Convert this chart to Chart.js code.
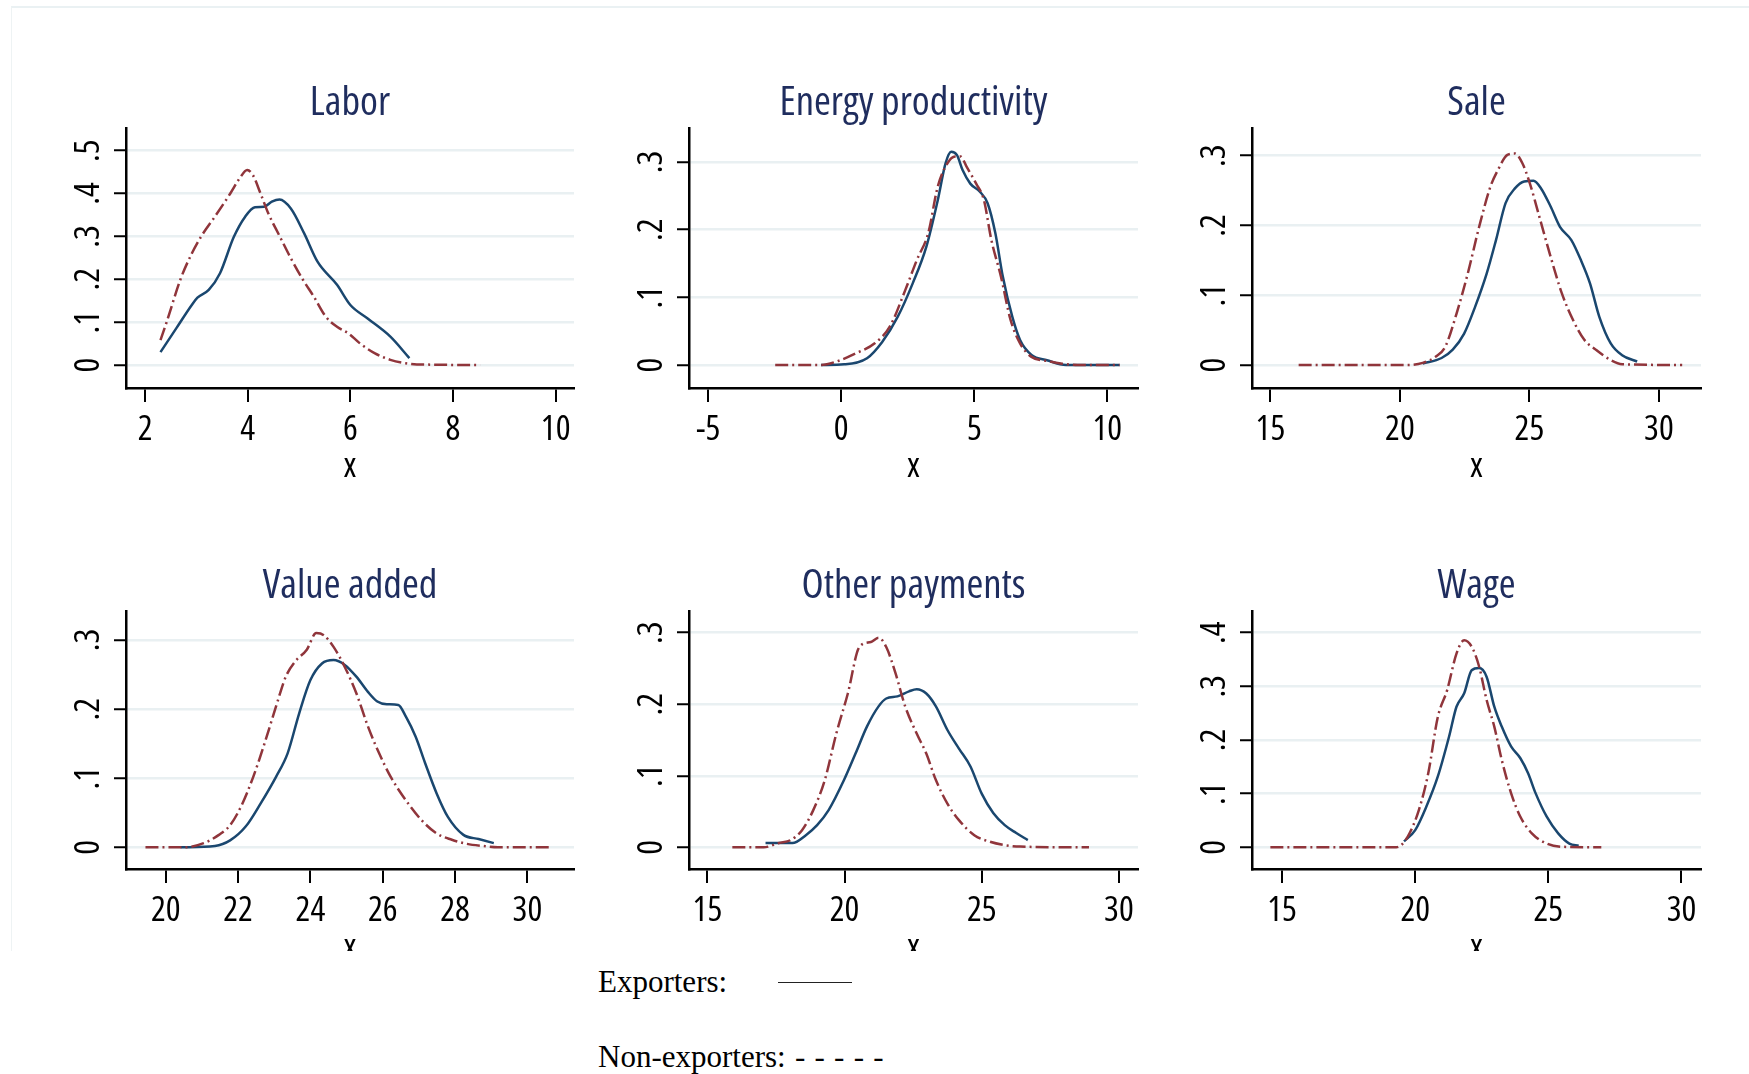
<!DOCTYPE html>
<html><head><meta charset="utf-8">
<script src="https://cdn.jsdelivr.net/npm/chart.js@4.4.1/dist/chart.umd.min.js"></script>
<style>
html,body{margin:0;padding:0;background:#fff;width:1749px;height:1074px;overflow:hidden;}
#graph{position:absolute;left:0;top:0;width:1749px;height:951px;overflow:hidden;}
#frame{position:absolute;left:11px;top:6px;width:1800px;height:1000px;border-top:2px solid #eaf1f3;border-left:1px solid #eef3f4;}
canvas{position:absolute;}
.leg{position:absolute;left:598px;font-family:'Liberation Serif','Times New Roman',serif;font-size:31px;line-height:31px;color:#000;white-space:pre;}
</style></head><body>
<div id="graph"><div id="frame"></div></div>
<div class="leg" style="top:966px">Exporters:</div>
<div style="position:absolute;left:778px;top:982px;width:74px;height:0;border-top:1.5px solid #222"></div>
<div class="leg" style="top:1041px">Non-exporters:<span style="word-spacing:1.5px"> - - - - -</span></div>
<script>
// ---- data ----
const panelTitles = ['Labor','Energy productivity','Sale','Value added','Other payments','Wage'];

const laborExpX = [2.30,2.61,2.91,3.02,3.24,3.46,3.73,3.95,4.14,4.32,4.47,4.62,4.84,5.10,5.36,5.74,6.00,6.33,6.78,7.15];
const laborExpY = [.030,.086,.140,.157,.175,.214,.299,.346,.368,.369,.381,.386,.365,.307,.241,.187,.140,.109,.066,.016];
const laborNonX = [2.30,2.42,2.69,2.91,3.10,3.36,3.66,3.84,3.99,4.10,4.25,4.40,4.62,4.84,5.07,5.29,5.52,5.74,5.96,6.18,6.48,6.78,7.08,7.45,8.53];
const laborNonY = [.058,.100,.200,.260,.301,.346,.400,.435,.455,.443,.400,.354,.301,.249,.200,.159,.113,.089,.074,.051,.027,.012,.004,.001,0];

const energyExpX = [-0.76,0.11,0.97,1.54,2.12,2.69,3.20,3.63,3.92,4.13,4.35,4.56,4.85,5.21,5.50,5.79,6.07,6.43,6.72,7.15,7.73,8.45,10.46];
const energyExpY = [0,.001,.010,.034,.071,.121,.175,.244,.298,.315,.310,.288,.268,.256,.239,.195,.131,.071,.037,.015,.007,0,0];
const energyNonX = [-2.48,-0.76,-0.04,0.54,1.26,1.83,2.41,2.84,3.27,3.63,3.99,4.28,4.49,4.71,5.07,5.36,5.64,6.00,6.36,6.72,7.15,7.73,8.30,8.88,10.46];
const energyNonY = [0,0,.007,.017,.032,.057,.111,.155,.195,.264,.298,.308,.308,.293,.268,.244,.185,.131,.067,.032,.012,.006,.002,0,0];

const saleExpX = [20.88,21.61,22.04,22.48,22.91,23.35,23.71,24.08,24.44,24.80,25.16,25.45,25.82,26.18,26.62,26.98,27.34,27.70,28.14,28.58,29.16];
const saleExpY = [.002,.010,.022,.045,.084,.131,.179,.232,.253,.263,.264,.253,.227,.198,.179,.151,.117,.069,.031,.014,.005];
const saleNonX = [16.09,20.30,20.88,21.39,21.75,22.19,22.62,23.06,23.49,23.78,24.15,24.44,24.73,25.02,25.38,25.82,26.25,26.69,27.12,27.56,28.14,28.58,30.90];
const saleNonY = [0,0,.003,.012,.026,.074,.131,.198,.255,.279,.301,.303,.289,.260,.213,.155,.103,.064,.036,.022,.007,.001,0];

const vaExpX = [20.41,21.36,21.78,22.21,22.63,23.05,23.37,23.69,24.00,24.32,24.64,24.95,25.27,25.59,25.85,26.11,26.43,26.64,26.91,27.17,27.49,27.80,28.23,28.65,29.07];
const vaExpY = [0,.002,.010,.030,.064,.102,.136,.194,.242,.266,.271,.264,.247,.225,.211,.207,.206,.189,.160,.122,.078,.044,.018,.012,.006];
const vaNonX = [19.44,20.52,21.05,21.47,21.78,22.10,22.42,22.73,23.05,23.32,23.58,23.90,24.16,24.37,24.64,24.95,25.27,25.59,25.90,26.22,26.64,27.06,27.49,27.91,28.33,28.75,29.18,30.65];
const vaNonY = [0,0,.006,.018,.032,.061,.102,.150,.204,.247,.269,.286,.310,.307,.290,.261,.223,.175,.136,.102,.068,.040,.020,.011,.005,.002,0,0];

const opExpX = [17.12,18.10,18.59,19.00,19.42,19.98,20.40,20.82,21.24,21.52,21.93,22.35,22.63,22.98,23.33,23.75,24.17,24.59,25.00,25.42,25.84,26.26,26.68];
const opExpY = [.006,.006,.017,.031,.052,.094,.131,.169,.197,.208,.211,.218,.221,.215,.197,.164,.138,.113,.075,.048,.031,.020,.010];
const opNonX = [15.91,17.05,17.61,18.03,18.45,18.86,19.28,19.70,20.12,20.54,20.96,21.24,21.52,21.86,22.21,22.63,22.98,23.33,23.75,24.17,24.73,25.28,25.84,26.40,28.91];
const opNonY = [0,0,.006,.010,.024,.052,.094,.159,.215,.280,.287,.293,.280,.243,.197,.159,.131,.094,.061,.038,.017,.008,.003,.001,0];

const wageExpX = [19.58,20.00,20.42,20.85,21.27,21.55,21.84,22.12,22.40,22.68,22.97,23.25,23.60,23.95,24.24,24.52,24.94,25.37,25.79,26.14];
const wageExpY = [.011,.032,.076,.132,.206,.262,.287,.330,.334,.318,.262,.225,.188,.166,.138,.101,.057,.026,.007,.003];
const wageNonX = [14.56,19.29,19.72,20.14,20.49,20.85,21.20,21.55,21.84,22.12,22.40,22.68,22.97,23.25,23.60,23.95,24.38,24.94,25.51,26.99];
const wageNonY = [0,0,.020,.070,.138,.243,.293,.361,.386,.374,.337,.275,.225,.163,.101,.057,.026,.007,.001,0];

// tick values / labels
const laborXTicks = [2,4,6,8,10];
const energyXTicks = [-5,0,5,10];
const saleXTicks = [15,20,25,30];
const vaXTicks = [20,22,24,26,28,30];
const opXTicks = [15,20,25,30];
const wageXTicks = [15,20,25,30];
const laborYTicks = [0,.1,.2,.3,.4,.5];
const laborYLabels = ['0','.1','.2','.3','.4','.5'];
const y3Ticks = [0,.1,.2,.3];
const y3Labels = ['0','.1','.2','.3'];
const y4Ticks = [0,.1,.2,.3,.4];
const y4Labels = ['0','.1','.2','.3','.4'];

// ---- font choice: prefer a narrow sans (reference uses Arial/Helvetica Narrow) ----
function pickFont() {
  const cands = [
    {family: "'Liberation Sans Narrow'", weight: 'normal'},
    {family: "'Arial Narrow'", weight: 'normal'},
    {family: "'Open Sans'", weight: 'condensed'},
    {family: "'Noto Sans'", weight: 'condensed'},
    {family: "Roboto", weight: 'condensed'},
    {family: "'Liberation Sans'", weight: 'condensed'},
    {family: "'Liberation Sans'", weight: 'normal'}
  ];
  const ctx = document.createElement('canvas').getContext('2d');
  let best = null, bestErr = 1e9;
  cands.forEach(c => {
    ctx.font = 'normal ' + c.weight + ' 100px ' + c.family;
    const w = ctx.measureText('Energy productivity').width;
    const err = Math.abs(w - 697);
    if (err < bestErr - 5) { bestErr = err; best = {family: c.family, weight: c.weight, w: w}; }
  });
  return best;
}
const FNT = pickFont();
const SF = FNT.w <= 760 ? Math.min(1.07, Math.max(1, 697 / FNT.w)) : Math.max(0.88, Math.pow(697 / FNT.w, 0.4));
const TITLE_SIZE = 38.5 * SF, TICK_SIZE = 33 * SF;

// ---- layout / style ----
const BLUE = '#1a476f', RED = '#90353b', GRID = '#e9f0f2';
const YW = 90, RP = 30, XH = 100;
const TPB = 0.5;
const THf = TITLE_SIZE * 1.2 + TPB, TH = Math.ceil(THf);
const colL = [126, 689, 1252], colR = [574, 1138, 1701];
const rowT = [128, 611], rowB = [388, 869];

const panels = [
  {expX: laborExpX, expY: laborExpY, nonX: laborNonX, nonY: laborNonY, xt: laborXTicks, yt: laborYTicks, yl: laborYLabels, xr: [1.628, 10.358], yr: [-0.0537, 0.5528]},
  {expX: energyExpX, expY: energyExpY, nonX: energyNonX, nonY: energyNonY, xt: energyXTicks, yt: y3Ticks, yl: y3Labels, xr: [-5.719, 11.151], yr: [-0.0340, 0.3502]},
  {expX: saleExpX, expY: saleExpY, nonX: saleNonX, nonY: saleNonY, xt: saleXTicks, yt: y3Ticks, yl: y3Labels, xr: [14.289, 31.626], yr: [-0.0330, 0.3396]},
  {expX: vaExpX, expY: vaExpY, nonX: vaNonX, nonY: vaNonY, xt: vaXTicks, yt: y3Ticks, yl: y3Labels, xr: [18.902, 31.287], yr: [-0.0314, 0.3420]},
  {expX: opExpX, expY: opExpY, nonX: opNonX, nonY: opNonY, xt: opXTicks, yt: y3Ticks, yl: y3Labels, xr: [14.330, 30.697], yr: [-0.0303, 0.3303]},
  {expX: wageExpX, expY: wageExpY, nonX: wageNonX, nonY: wageNonY, xt: wageXTicks, yt: y4Ticks, yl: y4Labels, xr: [13.870, 30.734], yr: [-0.0404, 0.4404]}
];

const toPts = (xs, ys) => xs.map((x, i) => ({x: x, y: ys[i]}));
const graph = document.getElementById('graph');

panels.forEach((p, k) => {
  const c = k % 3, r = Math.floor(k / 3);
  const cv = document.createElement('canvas');
  const w = YW + (colR[c] - colL[c]) + RP;
  const h = TH + (rowB[r] - rowT[r]) + XH;
  cv.width = w; cv.height = h;
  cv.style.left = (colL[c] - YW) + 'px';
  cv.style.top = (rowT[r] - TH) + 'px';
  cv.style.width = w + 'px'; cv.style.height = h + 'px';
  graph.appendChild(cv);
  const font = s => ({family: FNT.family, weight: FNT.weight, size: s, lineHeight: 1.2});
  new Chart(cv, {
    type: 'line',
    data: {
      datasets: [
        {label: 'Non-exporters', data: toPts(p.nonX, p.nonY), borderColor: RED, borderWidth: 2.5, borderDash: [13, 4, 2, 4], pointRadius: 0, cubicInterpolationMode: 'monotone', fill: false},
        {label: 'Exporters', data: toPts(p.expX, p.expY), borderColor: BLUE, borderWidth: 2.5, pointRadius: 0, cubicInterpolationMode: 'monotone', fill: false}
      ]
    },
    options: {
      responsive: false, animation: false, devicePixelRatio: 1,
      layout: {padding: {left: 0, right: RP, top: TH - THf, bottom: 0}},
      plugins: {
        legend: {display: false}, tooltip: {enabled: false},
        title: {display: true, text: panelTitles[k], fullSize: false, color: '#1f2d5e',
          font: font(TITLE_SIZE), padding: {top: 0, bottom: TPB}}
      },
      scales: {
        x: {
          type: 'linear', min: p.xr[0], max: p.xr[1],
          afterBuildTicks: s => { s.ticks = p.xt.map(v => ({value: v})); },
          afterFit: s => { s.height = XH; },
          ticks: {color: '#000', font: font(TICK_SIZE), padding: 7.5, maxRotation: 0, autoSkip: false,
            callback: (v, i) => String(p.xt[i])},
          grid: {display: true, drawOnChartArea: false, drawTicks: true, tickLength: 14, color: '#000', lineWidth: 2},
          border: {display: true, color: '#000', width: 2.5},
          title: {display: true, text: 'x', color: '#000', font: font(TICK_SIZE), padding: {top: 0, bottom: 0}}
        },
        y: {
          type: 'linear', min: p.yr[0], max: p.yr[1],
          afterBuildTicks: s => { s.ticks = p.yt.map(v => ({value: v})); },
          afterFit: s => { s.width = YW; },
          ticks: {color: '#000', font: font(TICK_SIZE), padding: 14, minRotation: 90, maxRotation: 90,
            crossAlign: 'center', autoSkip: false, callback: (v, i) => p.yl[i]},
          grid: {display: true, drawOnChartArea: true, drawTicks: true, tickLength: 12, color: GRID, lineWidth: 2.5, tickColor: '#000', tickWidth: 2},
          border: {display: true, color: '#000', width: 2.5}
        }
      }
    }
  });
});
</script>
</body></html>
